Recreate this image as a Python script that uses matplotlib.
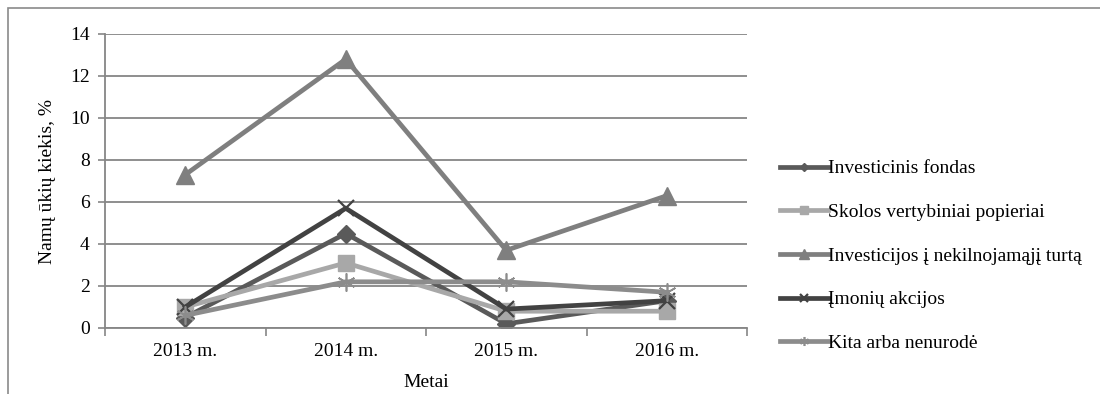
import matplotlib
matplotlib.use("Agg")
import matplotlib.pyplot as plt
from matplotlib.patches import Rectangle

categories = ["2013 m.", "2014 m.", "2015 m.", "2016 m."]
series_names = ["Investicinis fondas", "Skolos vertybiniai popieriai",
                "Investicijos į nekilnojamąjį turtą", "Įmonių akcijos",
                "Kita arba nenurodė"]
investicinis = [0.5, 4.5, 0.2, 1.3]
skolos = [1.0, 3.1, 0.8, 0.8]
nekilnojamas = [7.3, 12.8, 3.7, 6.3]
akcijos = [1.0, 5.7, 0.9, 1.3]
kita = [0.6, 2.2, 2.2, 1.7]
yticks = [0, 2, 4, 6, 8, 10, 12, 14]

plt.rcParams['font.family'] = ['Liberation Serif', 'DejaVu Serif']
plt.rcParams['font.size'] = 14

fig = plt.figure(figsize=(11, 3.94), dpi=100)
fig.patches.append(Rectangle((8/1100, -0.1), 1.2, 1 - 8/394 + 0.1,
                             transform=fig.transFigure, fill=False,
                             edgecolor='#8a8a8a', linewidth=1.2))
ax = fig.add_axes([105/1100, 1 - 328/394, 642/1100, 294/394])

styles = [
    (investicinis, '#5a5a5a', 'D', 9, {}),
    (skolos, '#a8a8a8', 's', 11, {}),
    (nekilnojamas, '#7f7f7f', '^', 13, {}),
    (akcijos, '#424242', 'x', 12, {'markeredgewidth': 1.6}),
    (kita, '#8c8c8c', (6, 2, 0), 13, {'markeredgewidth': 1.2}),
]
x = list(range(len(categories)))
for (vals, col, mk, ms, kw), name in zip(styles, series_names):
    ax.plot(x, vals, color=col, linewidth=3.4, marker=mk, markersize=ms,
            markerfacecolor=col, markeredgecolor=col, label=name,
            solid_joinstyle='miter', **kw)

ax.set_xlim(-0.5, 3.5)
ax.set_ylim(0, 14)
ax.set_yticks(yticks)
ax.yaxis.grid(True, color='#868686', linewidth=1.3)
ax.set_axisbelow(True)
ax.set_xticks([-0.5, 0.5, 1.5, 2.5, 3.5])
ax.set_xticklabels([])
ax.set_xticks(x, minor=True)
ax.set_xticklabels(categories, minor=True)
ax.tick_params(axis='x', which='minor', length=0, pad=11)
ax.tick_params(axis='x', which='major', length=6, width=1.2, color='#868686', direction='out')
ax.tick_params(axis='y', length=5, width=1.2, color='#868686', direction='out', pad=6)
for s in ['top', 'right']:
    ax.spines[s].set_visible(False)
for s in ['left', 'bottom']:
    ax.spines[s].set_color('#868686')
    ax.spines[s].set_linewidth(1.3)

ax.set_ylabel("Namų ūkių kiekis, %", labelpad=10)
ax.set_xlabel("Metai", labelpad=10)

leg = fig.legend(loc='upper left', bbox_to_anchor=(772/1100, 1 - 152/394),
                 frameon=False, handlelength=2.5, handletextpad=0.0,
                 labelspacing=1.34, borderaxespad=0, markerscale=0.5)

fig.savefig("out.png", dpi=100)
